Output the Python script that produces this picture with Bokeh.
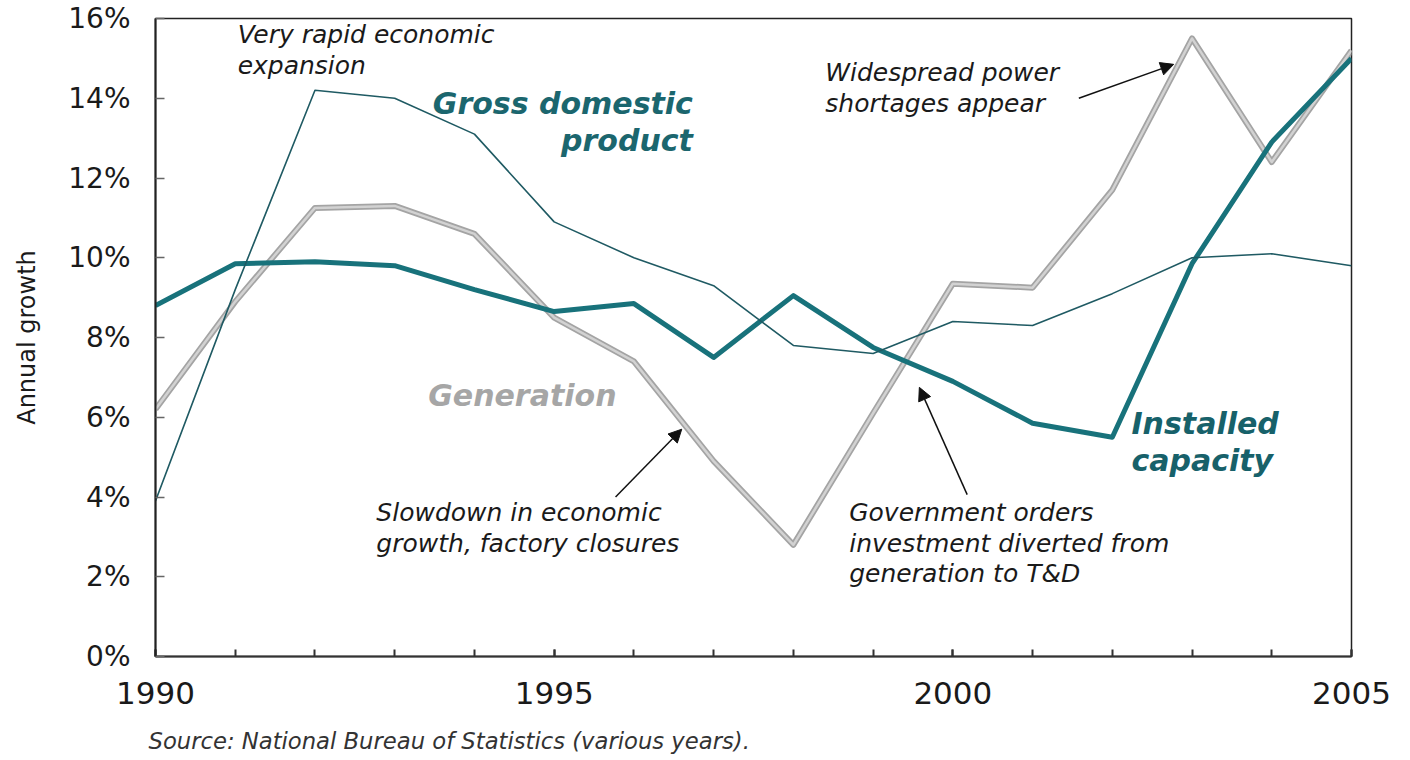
from bokeh.plotting import figure
from bokeh.models import FixedTicker, PrintfTickFormatter, Label, Arrow, NormalHead, Title
from bokeh.embed import file_html
from bokeh.resources import INLINE

# ---- data (annual growth, %) ----
years = list(range(1990, 2006))
gdp = [3.9, 9.2, 14.2, 14.0, 13.1, 10.9, 10.0, 9.3, 7.8, 7.6, 8.4, 8.3, 9.1, 10.0, 10.1, 9.8]
generation = [6.2, 8.9, 11.25, 11.3, 10.6, 8.5, 7.4, 4.9, 2.8, 6.1, 9.35, 9.25, 11.7, 15.5, 12.4, 15.2]
capacity = [8.8, 9.85, 9.9, 9.8, 9.2, 8.65, 8.85, 7.5, 9.05, 7.75, 6.9, 5.85, 5.5, 9.85, 12.9, 15.0]

x_tick_years = [1990, 1995, 2000, 2005]
y_ticks = [0, 2, 4, 6, 8, 10, 12, 14, 16]

series_labels = ["Gross domestic\nproduct", "Generation", "Installed\ncapacity"]
notes = [
    "Very rapid economic\nexpansion",
    "Widespread power\nshortages appear",
    "Slowdown in economic\ngrowth, factory closures",
    "Government orders\ninvestment diverted from\ngeneration to T&D",
]
source_text = "Source: National Bureau of Statistics (various years)."
y_title = "Annual growth"

TEAL = "#18727b"
GDP_COL = "#1f5a63"
FONT = "DejaVu Sans"

p = figure(width=1394, height=773, x_range=(1990, 2005), y_range=(0, 16),
           output_backend="svg", toolbar_location=None,
           min_border_left=155, min_border_right=43, min_border_top=18, min_border_bottom=116)
p.grid.visible = False
p.outline_line_color = "#222222"
p.outline_line_width = 1.5
p.background_fill_color = "white"
p.border_fill_color = "white"

# x axis
p.xaxis.ticker = FixedTicker(ticks=x_tick_years, minor_ticks=years)
p.xaxis.major_tick_in = 7
p.xaxis.major_tick_out = 0
p.xaxis.minor_tick_in = 7
p.xaxis.minor_tick_out = 0
p.xaxis.axis_line_width = 2
p.xaxis.axis_line_color = "#333333"
p.xaxis.major_tick_line_color = "#333333"
p.xaxis.minor_tick_line_color = "#333333"
p.xaxis.major_tick_line_width = 2
p.xaxis.minor_tick_line_width = 2
p.xaxis.major_label_text_font = FONT
p.xaxis.major_label_text_font_size = "31px"
p.xaxis.major_label_text_color = "#1a1a1a"
p.xaxis.major_label_standoff = 25

# y axis
p.yaxis.ticker = FixedTicker(ticks=y_ticks, minor_ticks=[])
p.yaxis.formatter = PrintfTickFormatter(format="%d%%")
p.yaxis.major_tick_in = 9
p.yaxis.major_tick_out = 0
p.yaxis.minor_tick_line_color = None
p.yaxis.axis_line_width = 2
p.yaxis.axis_line_color = "#222222"
p.yaxis.major_tick_line_color = "#666666"
p.yaxis.major_tick_line_width = 1.5
p.yaxis.major_label_text_font = FONT
p.yaxis.major_label_text_font_size = "28px"
p.yaxis.major_label_text_color = "#1a1a1a"
p.yaxis.major_label_standoff = 25
p.yaxis.axis_label = y_title
p.yaxis.axis_label_text_font = FONT
p.yaxis.axis_label_text_font_size = "24px"
p.yaxis.axis_label_text_font_style = "normal"
p.yaxis.axis_label_text_color = "#1a1a1a"
p.yaxis.axis_label_standoff = 24

# lines
p.line(years, generation, line_color="#a4a4a4", line_width=6, line_join="round")
p.line(years, generation, line_color="#d2d2d2", line_width=2.5, line_join="round")
p.line(years, capacity, line_color=TEAL, line_width=5, line_join="round")
p.line(years, gdp, line_color=GDP_COL, line_width=1.6, line_join="round")

# series labels
p.add_layout(Label(x=1996.74, y=14.3, text=series_labels[0], text_align="right", text_baseline="top",
                   text_font=FONT, text_font_size="30px", text_font_style="bold italic",
                   text_color="#1b666e", text_line_height=1.06))
p.add_layout(Label(x=1993.42, y=6.99, text=series_labels[1], text_align="left", text_baseline="top",
                   text_font=FONT, text_font_size="30px", text_font_style="bold italic",
                   text_color="#a6a6a6"))
p.add_layout(Label(x=2002.24, y=6.29, text=series_labels[2], text_align="left", text_baseline="top",
                   text_font=FONT, text_font_size="30px", text_font_style="bold italic",
                   text_color="#17616a", text_line_height=1.06))

# notes
note_pos = [(1991.03, 15.95), (1998.40, 15.0), (1992.77, 3.97), (1998.70, 3.97)]
for txt, (nx, ny) in zip(notes, note_pos):
    p.add_layout(Label(x=nx, y=ny, text=txt, text_align="left", text_baseline="top",
                       text_font=FONT, text_font_size="25px", text_font_style="italic",
                       text_color="#1a1a1a", text_line_height=1.05))

# arrows
arrows = [((2001.58, 14.0), (2002.77, 14.85)),
          ((1995.77, 4.0), (1996.6, 5.7)),
          ((2000.18, 4.06), (1999.58, 6.75))]
for (x0, y0), (x1, y1) in arrows:
    p.add_layout(Arrow(end=NormalHead(size=13, fill_color="#111111", line_color="#111111"),
                       x_start=x0, y_start=y0, x_end=x1, y_end=y1,
                       line_color="#111111", line_width=1.5))

# source note below the axis
p.add_layout(Title(text=source_text, align="left", text_font=FONT, text_font_size="22.7px",
                   text_font_style="italic", text_color="#333333", offset=-7, standoff=39), "below")

open("out.html", "w").write(file_html(p, INLINE))
